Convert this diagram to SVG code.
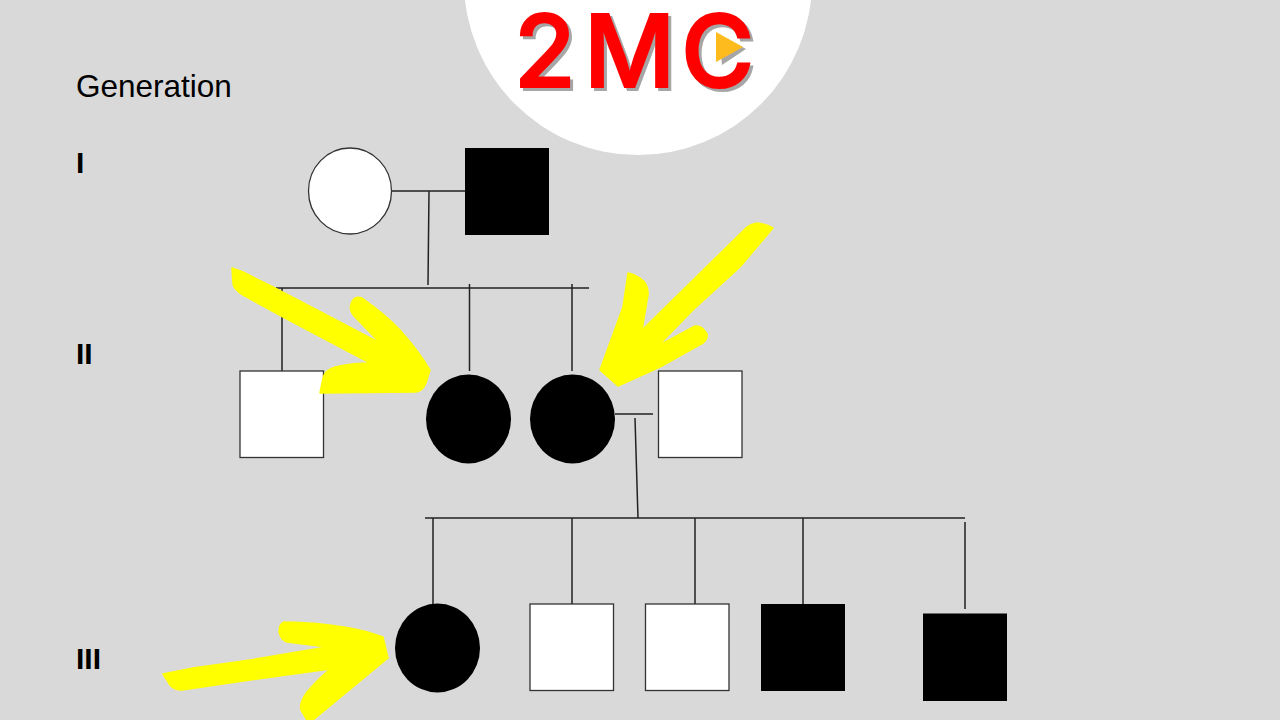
<svg xmlns="http://www.w3.org/2000/svg" width="1280" height="720" viewBox="0 0 1280 720">
<style>
.l{fill:none;stroke:#222;stroke-width:1.5}
.w{fill:#fff;stroke:#333;stroke-width:1.3}
.b{fill:#000}
.y{fill:#ff0;stroke:#ff0;stroke-width:1.5;stroke-linejoin:round}
.t{font-family:"Liberation Sans",Arial,sans-serif;fill:#000}
.g{font-size:30px;font-weight:700}
.logo{font-family:Inter,"Liberation Sans",sans-serif;font-weight:500;font-size:100px;stroke-width:2px;stroke-linejoin:miter}
</style>
<rect width="1280" height="720" fill="#d9d9d9"/>
<g id="logo">
<circle cx="638" cy="-19" r="174" fill="#fff"/>
<text class="logo" x="517 587 684" y="90" fill="#a6a6a6" stroke="#a6a6a6">2MC</text>
<text class="logo" x="514 584 681" y="87" fill="#f00" stroke="#f00">2MC</text>
<polygon points="719,35 746,49 722,65" fill="#a6a6a6"/>
<polygon points="716,32 743,47 716,62" fill="#fdbb1e"/>
</g>
<text id="label-generation" class="t" x="76" y="97" font-size="31.500">Generation</text>
<text id="label-i" class="t g" x="76" y="173">I</text>
<text id="label-ii" class="t g" x="76" y="364">II</text>
<text id="label-iii" class="t g" x="76" y="669">III</text>
<g id="connectors">
<path class="l" d="M392 191H465M429 191L428 285M276 288H589M282 288V371M469.500 284V371M572 284V371M615 414H653M635 418L638 518M425 518H965M433 518V604M572 518V604M695 518V604M803 518V604M965 522V609"/>
</g>
<g id="n-i-1"><ellipse class="w" cx="350" cy="191" rx="41.500" ry="43"/></g>
<g id="n-i-2"><rect class="b" x="465" y="148" width="84" height="87"/></g>
<g id="n-ii-1"><rect class="w" x="240" y="371" width="83.500" height="86.500"/></g>
<g id="n-ii-2"><ellipse class="b" cx="468.500" cy="419" rx="42.500" ry="44.500"/></g>
<g id="n-ii-3"><ellipse class="b" cx="572.500" cy="419" rx="42.500" ry="44.500"/></g>
<g id="n-ii-4"><rect class="w" x="658.500" y="371" width="83.500" height="86.500"/></g>
<g id="n-iii-1"><ellipse class="b" cx="437.500" cy="648" rx="42.500" ry="44.500"/></g>
<g id="n-iii-2"><rect class="w" x="530" y="604" width="83.500" height="86.500"/></g>
<g id="n-iii-3"><rect class="w" x="645.500" y="604" width="83.500" height="86.500"/></g>
<g id="n-iii-4"><rect class="b" x="761" y="604" width="84" height="87"/></g>
<g id="n-iii-5"><rect class="b" x="923" y="613.500" width="84" height="87.500"/></g>
<g id="arrows">
<path class="y" d="M232 268Q243 271 253 277L273 287L317 310L380 343L354 316Q349 310 351 304Q354 295 362 298Q385 314 400 330Q418 350 430 370L426 383Q423 391 416 392L320 393L323 378Q325 370 335 367Q352 363 370 363L283 317L243 295Q233 289 233 283Z"/>
<path class="y" d="M773 228Q766 224 757 223Q751 224 747 227L642 330L648 295Q649 284 640 278Q634 274 628 273L623 307L600 370L618 386L660 367L703 343Q708 339 707 334Q702 325 695 326L658 346L693 310L740 267Z"/>
<path class="y" d="M163 674L170 685Q174 690 182 690L250 680L330 669Q315 682 307 692Q299 703 301 710L307 720H313L388 658L383 637Q367 631 350 628Q316 622 284 622Q279 624 279 632Q281 640 287 642L327 647L250 660L193 668Z"/>
</g>
</svg>
